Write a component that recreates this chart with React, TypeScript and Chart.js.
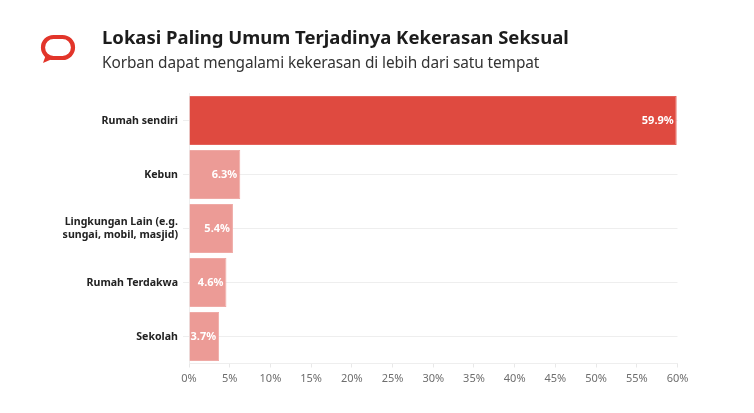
import React, { useEffect, useRef } from "react";
import { Chart, registerables } from "chart.js";

Chart.register(...registerables);

const categories: (string | string[])[] = [
  "Rumah sendiri",
  "Kebun",
  ["Lingkungan Lain (e.g.", "sungai, mobil, masjid)"],
  "Rumah Terdakwa",
  "Sekolah",
];
const values = [59.9, 6.3, 5.4, 4.6, 3.7];
const barColors = ["#df4a40", "#ec9b96", "#ec9b96", "#ec9b96", "#ec9b96"];
const borderColors = ["#e4625a", "#efaaa6", "#efaaa6", "#efaaa6", "#efaaa6"];
const titleText = "Lokasi Paling Umum Terjadinya Kekerasan Seksual";
const subtitleText = "Korban dapat mengalami kekerasan di lebih dari satu tempat";
const FONT = '"Noto Sans", sans-serif';

const valueLabels = {
  id: "valueLabels",
  afterDatasetsDraw(chart: any) {
    const { ctx } = chart;
    const meta = chart.getDatasetMeta(0);
    ctx.save();
    ctx.fillStyle = "#fff";
    ctx.font = `bold 11px ${FONT}`;
    ctx.textAlign = "right";
    ctx.textBaseline = "middle";
    meta.data.forEach((bar: any, i: number) => {
      ctx.fillText(`${values[i].toFixed(1)}%`, bar.x - 3, bar.y);
    });
    ctx.restore();
  },
};

export default function App() {
  const ref = useRef<HTMLCanvasElement>(null);
  useEffect(() => {
    const chart = new Chart(ref.current!, {
      type: "bar",
      data: {
        labels: categories as any,
        datasets: [
          {
            data: values,
            backgroundColor: barColors,
            borderColor: borderColors,
            borderWidth: 1,
            barPercentage: 1,
            categoryPercentage: 0.91,
          },
        ],
      },
      plugins: [valueLabels],
      options: {
        indexAxis: "y",
        animation: false,
        responsive: false,
        devicePixelRatio: 1,
        layout: { padding: { left: 0, top: 93.5, right: 76.5, bottom: 0 } },
        plugins: { legend: { display: false }, tooltip: { enabled: false } },
        scales: {
          x: {
            min: 0,
            max: 60,
            afterFit: (s: any) => { s.height = 49.5; },
            grid: { display: true, drawOnChartArea: false, drawTicks: true, tickLength: 4, color: "#e8e8e8" },
            border: { display: true, color: "#eeeeee" },
            ticks: {
              stepSize: 5,
              maxRotation: 0,
              padding: 5,
              color: "#6e6e6e",
              font: { family: FONT, size: 11 },
              callback: (v: any) => `${v}%`,
            },
          },
          y: {
            afterFit: (s: any) => { s.width = 189; },
            grid: { color: "#eeeeee", tickLength: 6, offset: false },
            border: { display: true, color: "#eeeeee" },
            ticks: {
              padding: 5,
              color: "#222",
              font: { family: FONT, size: 10.6, weight: "bold", lineHeight: 1.25 },
            },
          },
        },
      },
    } as any);
    return () => chart.destroy();
  }, []);

  return (
    <div style={{ position: "absolute", left: 0, top: 0, width: 754, height: 413, background: "#fff", overflow: "hidden" }}>
      <canvas ref={ref} width={754} height={413} style={{ position: "absolute", left: 0, top: 0, display: "block" }} />
      <svg width="40" height="34" style={{ position: "absolute", left: 38, top: 32 }} viewBox="0 0 40 34">
        <rect x="5" y="5" width="30" height="21" rx="10.5" ry="10.5" fill="none" stroke="#e2352a" strokeWidth="4.2" />
        <path d="M5 31 L7.5 24 L13 27.5 Z" fill="#e2352a" />
      </svg>
      <div style={{ position: "absolute", left: 102, top: 24, fontFamily: FONT, fontWeight: 700, fontSize: 18.5, lineHeight: "26px", color: "#1c1c1c", whiteSpace: "nowrap" }}>
        {titleText}
      </div>
      <div style={{ position: "absolute", left: 102, top: 51, fontFamily: FONT, fontSize: 15.4, letterSpacing: "-0.1px", lineHeight: "24px", color: "#333", whiteSpace: "nowrap" }}>
        {subtitleText}
      </div>
    </div>
  );
}
